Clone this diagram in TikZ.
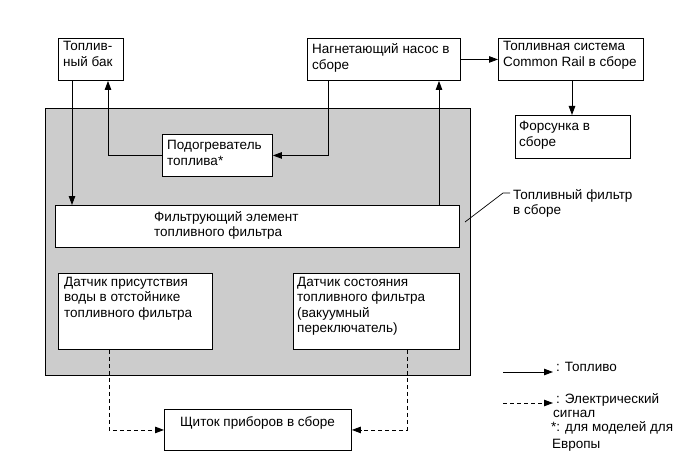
\documentclass[tikz,border=0pt]{standalone}
\usepackage{fontspec}
\setmainfont{Liberation Sans}
\usetikzlibrary{arrows.meta}
\definecolor{panelgray}{RGB}{204,204,204}
\begin{document}
\begin{tikzpicture}[x=1pt,y=-1pt,
  box/.style={draw, line width=0.9pt, fill=white, inner sep=0pt, anchor=north west},
  txt/.style={inner sep=0pt, anchor=base west, align=left, font=\fontsize{13.5}{15.5}\selectfont},
  arr/.style={line width=0.9pt, -{Triangle[length=9pt,width=6.5pt]}},
  darr/.style={arr, dash pattern=on 4pt off 3pt}]
\useasboundingbox (0,0) rectangle (690,465);
% panel
\node[box, fill=panelgray, minimum width=425pt, minimum height=267pt] (panel) at (45,108) {};
% boxes
\node[box, minimum width=65pt, minimum height=42pt] (tank) at (58,38) {};
\node[box, minimum width=110pt, minimum height=42pt] (heater) at (162,134) {};
\node[box, minimum width=153pt, minimum height=42pt] (pump) at (307,38) {};
\node[box, minimum width=145pt, minimum height=42pt] (cr) at (498,38) {};
\node[box, minimum width=115pt, minimum height=43pt] (inj) at (515,115) {};
\node[box, minimum width=404pt, minimum height=42pt] (felem) at (55,205) {};
\node[box, minimum width=154pt, minimum height=76pt] (ws) at (58,273) {};
\node[box, minimum width=166pt, minimum height=76pt] (fs) at (293,273) {};
\node[box, minimum width=187pt, minimum height=41pt] (inst) at (164,409) {};
% texts (anchor = baseline of the last line)
\node[txt] (tankt) at (63,66.5) {Топлив-\\ный бак};
\node[txt] (heatert) at (167,165.5) {Подогреватель\\топлива*};
\node[txt] (pumpt) at (312,69.5) {Нагнетающий насос в\\сборе};
\node[txt] (crt) at (503,66.5) {Топливная система\\Common Rail в сборе};
\node[txt] (injt) at (519,146.5) {Форсунка в\\сборе};
\node[txt] (felemt) at (154,236.5) {Фильтрующий элемент\\топливного фильтра};
\node[txt] (wst) at (64,317) {Датчик присутствия\\воды в отстойнике\\топливного фильтра};
\node[txt] (fst) at (297,332.5) {Датчик состояния\\топливного фильтра\\(вакуумный\\переключатель)};
\node[txt, anchor=base] (instt) at (257.5,426) {Щиток приборов в сборе};
\node[txt] (callt) at (513,214.5) {Топливный фильтр\\в сборе};
% fuel connectors
\draw[arr] ([xshift=14pt]tank.south west) -- ([xshift=14pt]tank.south west |- felem.north);
\draw[arr] (heater.west) -| ([xshift=50pt]tank.south west);
\draw[arr] ([xshift=21pt]pump.south west) |- (heater.east);
\draw[arr] ([xshift=384pt]felem.north west) -- ([xshift=384pt]felem.north west |- pump.south);
\draw[arr] (pump.east) -- (cr.west);
\draw[arr] ([xshift=74pt]cr.south west) -- ([xshift=74pt]cr.south west |- inj.north);
% signal connectors
\draw[darr] ([xshift=51pt]ws.south west) |- (inst.west);
\draw[darr] ([xshift=114pt]fs.south west) |- (inst.east);
% callout leader
\coordinate (callp) at (465,222);
\coordinate (callk) at (503,193);
\coordinate (calle) at (510,193);
\draw[line width=0.7pt] (callp) -- (callk) -- (calle);
% legend
\coordinate (lg1) at (503,372);
\coordinate (lg1e) at (553,372);
\coordinate (lg2) at (503,403);
\coordinate (lg2e) at (553,403);
\node[txt] (lg1t) at (556,371) {: Топливо};
\node[txt] (lg2t) at (556,403) {: Электрический};
\node[txt] (lg3t) at (553,417) {сигнал};
\node[txt] (lg4t) at (551,431) {*: для моделей для};
\node[txt] (lg5t) at (552,448) {Европы};
\draw[arr] (lg1) -- (lg1e);
\draw[darr] (lg2) -- (lg2e);
\end{tikzpicture}
\end{document}
